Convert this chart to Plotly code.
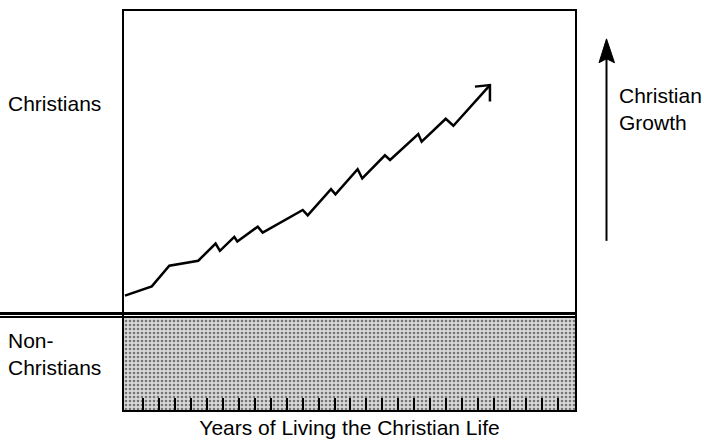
import plotly.graph_objects as go

# ---- data (years of living the Christian life vs. growth level) ----
years = [-0.13, 1.55, 2.65, 4.46, 5.55, 5.82, 6.72, 6.91, 8.19, 8.50, 11.01, 11.32,
         12.78, 13.06, 14.45, 14.74, 16.16, 16.48, 18.25, 18.46, 19.97, 20.45, 22.74]
growth = [1.8, 2.73, 4.8, 5.3, 7.03, 6.3, 7.7, 7.23, 8.73, 8.13, 10.4, 9.87,
          12.5, 11.97, 14.5, 13.57, 15.9, 15.43, 18.03, 17.27, 19.57, 18.87, 22.95]
# open arrowhead arms at the end of the growth line (offsets from tip, data units)
head_dx = [-0.94, 0.0, 0.0]
head_dy = [-0.15, 0.0, -1.65]
tick_years = list(range(1, 28))
non_christian_zone = [-9.7, -0.45]   # growth levels spanned by the Non-Christian zone

# ---- geometry ----
W, H = 704, 447
L, R, T, B = 124, 575, 9, 410
XR = [-0.19, 28.07]
YR = [-9.7, 30.4]
FONT = "Liberation Sans, Arial, Helvetica, sans-serif"
FS = 21

def px(x):
    return (x - L) / (R - L)

def py(y):
    return (B - y) / (B - T)

fig = go.Figure()

# stippled Non-Christian zone
fig.add_trace(go.Scatter(
    x=[XR[0], XR[1], XR[1], XR[0], XR[0]],
    y=[non_christian_zone[1], non_christian_zone[1], non_christian_zone[0],
       non_christian_zone[0], non_christian_zone[1]],
    mode="lines", line=dict(width=0), fill="toself",
    fillcolor="rgba(0,0,0,0)",
    fillpattern=dict(shape=".", fgcolor="#111111", bgcolor="#d8d8d8",
                     size=4, solidity=0.35),
    hoverinfo="skip", showlegend=False))

# growth line
fig.add_trace(go.Scatter(x=years, y=growth, mode="lines",
                         line=dict(color="black", width=2.5),
                         hoverinfo="skip", showlegend=False))
# open arrowhead
fig.add_trace(go.Scatter(x=[years[-1] + d for d in head_dx],
                         y=[growth[-1] + d for d in head_dy],
                         mode="lines", line=dict(color="black", width=2.5),
                         hoverinfo="skip", showlegend=False))

shapes = [
    # double divider line
    dict(type="line", xref="paper", yref="y", x0=px(0), x1=1, y0=0, y1=0,
         line=dict(color="black", width=3)),
    dict(type="line", xref="paper", yref="y", x0=px(0), x1=1, y0=-0.35, y1=-0.35,
         line=dict(color="black", width=2)),
    # right growth arrow shaft
    dict(type="line", xref="paper", yref="paper", x0=px(606.5), x1=px(606.5),
         y0=py(240), y1=py(55), line=dict(color="black", width=2)),
    # right growth arrow head
    dict(type="path", xref="paper", yref="paper",
         path=f"M {px(599)},{py(61)} L {px(606.5)},{py(37)} L {px(614.5)},{py(61)} "
              f"L {px(606.5)},{py(57)} Z",
         fillcolor="black", line=dict(color="black", width=1)),
]

annotations = [
    dict(text="Christians", xref="paper", yref="paper", x=px(6), y=py(102),
         xanchor="left", yanchor="middle", showarrow=False,
         font=dict(family=FONT, size=FS, color="black")),
    dict(text="Non-<br>Christians", xref="paper", yref="paper", x=px(6), y=py(354),
         xanchor="left", yanchor="middle", showarrow=False, align="left",
         font=dict(family=FONT, size=FS, color="black")),
    dict(text="Christian<br>Growth", xref="paper", yref="paper", x=px(617), y=py(107),
         xanchor="left", yanchor="middle", showarrow=False, align="left",
         font=dict(family=FONT, size=FS, color="black")),
]

fig.update_layout(
    width=W, height=H,
    margin=dict(l=L, r=W - R, t=T, b=H - B),
    paper_bgcolor="white", plot_bgcolor="white",
    shapes=shapes, annotations=annotations,
    showlegend=False,
    xaxis=dict(range=XR, showgrid=False, zeroline=False,
               showline=True, mirror=True, linecolor="black", linewidth=2,
               ticks="inside", ticklen=12, tickwidth=2, tickcolor="black",
               tickvals=tick_years, showticklabels=False,
               title=dict(text="Years of Living the Christian Life", standoff=9,
                          font=dict(family=FONT, size=FS, color="black"))),
    yaxis=dict(range=YR, showgrid=False, zeroline=False,
               showline=True, mirror=True, linecolor="black", linewidth=2,
               ticks="", showticklabels=False),
)

fig.write_html("out.html", config={"displayModeBar": False},
               post_script="document.body.style.margin='0';document.body.style.overflow='hidden';")
